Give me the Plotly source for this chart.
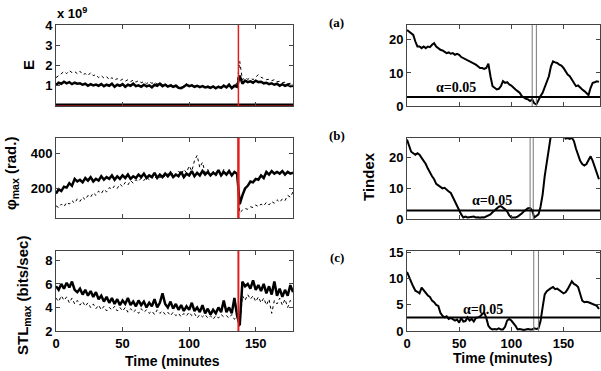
import plotly.graph_objects as go

# ---------------- data ----------------
# left column: 2-minute sampling, t = 0 .. 178 min
E_solid = [1.05,1.15,1.1,1.2,1.12,1.18,1.08,1.15,1.1,1.12,1.05,1.1,1.0,1.08,1.02,1.06,1.0,1.08,0.98,1.05,
           1.0,1.1,0.95,1.05,1.0,1.08,0.95,1.05,1.0,1.1,0.98,1.02,0.95,1.05,0.97,1.02,0.92,1.05,1.0,1.1,
           0.98,1.05,0.96,1.02,0.95,1.0,0.9,0.88,0.95,1.05,0.98,1.02,0.95,1.0,0.93,0.98,0.92,0.95,0.9,0.97,
           0.88,0.95,0.9,1.0,0.92,1.05,0.88,1.0,0.95,1.5,1.1,1.25,1.18,1.22,1.15,1.25,1.18,1.2,1.12,1.15,
           1.08,1.12,1.05,1.1,1.0,1.08,1.0,1.05,0.98,1.0]
E_dotted = [1.4,1.5,1.6,1.7,1.6,1.75,1.65,1.7,1.6,1.72,1.55,1.6,1.5,1.65,1.5,1.55,1.4,1.5,1.38,1.45,
            1.3,1.4,1.28,1.35,1.25,1.32,1.22,1.3,1.2,1.28,1.18,1.25,1.15,1.2,1.1,1.2,1.12,1.18,1.08,1.15,
            1.05,1.1,1.0,1.08,0.98,1.05,0.95,0.92,1.0,1.1,1.0,1.05,0.98,1.02,0.95,1.0,0.95,1.0,0.92,0.98,
            0.9,0.98,0.92,1.05,0.95,1.1,0.9,1.05,1.1,2.2,1.3,1.4,1.32,1.38,1.3,1.45,1.55,1.42,1.35,1.3,
            1.32,1.25,1.3,1.2,1.22,1.15,1.18,1.1,1.12,1.08]
PHI_solid = [170,195,185,210,205,230,215,255,240,250,235,260,245,265,240,255,245,270,250,265,
             255,275,250,270,255,275,260,280,255,270,260,280,265,285,260,275,265,290,260,280,
             265,285,270,290,265,280,270,295,265,285,275,300,270,290,275,300,280,295,275,290,
             280,305,275,295,280,300,275,295,285,110,160,200,215,240,235,255,250,275,260,295,
             280,300,285,295,285,300,280,295,285,290]
PHI_dotted = [100,90,110,95,120,110,130,115,140,125,150,135,160,150,175,160,185,170,195,180,
              205,195,215,200,225,210,235,220,245,230,250,240,260,245,265,250,270,255,275,260,
              280,265,285,270,290,275,300,280,310,290,330,300,360,390,320,350,290,310,275,300,
              270,295,280,310,275,295,270,290,280,60,75,85,80,95,90,105,95,110,100,120,
              105,125,115,135,120,140,130,160,150,180]
STL_solid = [5.8,5.5,6.0,5.6,6.1,5.7,6.2,5.5,5.3,5.6,5.1,5.5,5.0,5.4,4.9,5.3,4.7,5.0,4.5,4.9,
             4.4,4.8,4.3,4.7,4.2,4.6,4.3,4.8,4.2,4.5,4.1,4.6,4.2,4.5,4.0,4.4,4.1,4.7,4.0,4.4,
             5.2,4.3,4.0,4.5,3.9,4.3,3.8,4.2,3.7,4.1,3.8,4.4,3.7,4.0,3.6,4.2,3.5,3.9,3.4,3.8,
             3.5,4.0,3.6,4.6,3.6,4.0,3.5,4.8,3.3,2.5,6.2,5.8,6.0,5.6,6.3,5.5,5.9,5.4,6.0,5.2,
             5.8,5.1,6.2,5.0,5.6,4.9,5.5,5.0,5.9,5.3]
STL_dotted = [4.8,4.5,5.0,4.6,4.9,4.4,4.8,4.3,4.6,4.2,4.5,4.1,4.4,4.0,4.3,3.9,4.2,3.8,4.1,3.7,
              4.0,3.8,4.1,3.7,4.0,3.7,4.0,3.6,3.9,3.6,3.8,3.5,3.9,3.6,3.8,3.5,3.7,3.4,3.8,3.5,
              3.7,3.4,3.6,3.3,3.6,3.3,3.5,3.2,3.5,3.3,3.6,3.3,3.5,3.1,3.4,3.2,3.4,3.1,3.3,3.0,
              3.3,3.1,3.4,3.2,3.3,3.1,3.4,3.0,3.2,2.3,5.0,4.6,5.1,4.7,5.0,4.5,4.9,4.4,4.8,4.2,
              4.7,3.5,4.6,4.3,4.8,4.2,4.7,4.0,4.6,4.4]

# right column: 2-minute sampling, t = 0 .. 184 min
T_a = [23,22.5,22,21.5,19.5,18,18,17.5,18,17.5,18,17.8,18.5,19,18,17.5,17,16.8,16.5,16,
       16.2,15.8,16,15.5,15.8,15.5,14.8,14.5,14,13.8,13.5,13.2,12.8,12.5,12,11.5,11.5,11.2,11.5,12.8,
       9,6,5.5,5,5.2,6,7.5,7,7.2,6.5,6.2,5.5,5,4.5,4,3,2.5,2.2,2,1.5,
       2,0.8,0.5,2,3,4,5.5,7,9,12,13.5,13.2,13,12.5,12.2,11.5,10.5,9.5,9,8,
       7,6,6.2,5.5,5,4.5,4,3.3,5.5,7,7.2,7.5,7.3]
T_b = [26,24,22,21.5,21,21.5,21,20,19,18,16.5,15,14,13,11.5,11,10.5,10,10.2,9.5,
       9,8.5,7,6,4.5,3,1.5,0.5,0.8,0.5,0.6,0.5,0.8,0.5,0.6,0.4,0.6,0.5,0.8,1.2,
       1.5,2.2,2.8,3.5,4,4.2,3.8,3.2,2.5,1.2,0.5,0.4,0.5,0.8,1.2,1.8,2.5,3,3.5,3.6,
       2.8,0.5,1,1.5,4,8,14,19,24,27.5,28,28,28,28,28,27.5,26.3,26.5,26.2,26.6,
       25.5,23,21,19,18,17.5,18,19.5,20.5,19,17,15,13]
T_c = [11.3,10.5,9.4,8.5,7.7,7.5,7.2,8.3,7.8,7.2,6.8,6.5,5.8,5.5,5,4.8,3.5,2.9,2.6,2.8,
       2.3,2.5,2.3,2,2.2,1.6,2.5,1.8,1.9,2.6,2.0,2.3,1.8,2.5,2.6,2.8,3.2,3.5,2.5,1,
       0.5,0.3,0.4,0.3,0.5,0.3,0.3,0.8,2,2.3,2,1.6,1.0,0.3,0.4,0.3,0.2,0.3,0.4,0.3,
       0.3,0.5,0.4,0.5,1.9,4.5,7,7.6,8,8.2,8.4,8,8.1,7.7,7.5,7.2,7.4,8,8.7,9.5,
       9,8.8,8.4,7,5.8,5.5,5.6,5.5,5.3,5.2,5,4.8,4.2]

SEIZURE_ONSET = 137                      # red line, left column (minutes)
SEIZURE_LINES = [[120, 124], [118, 121], [121.5, 126]]   # double lines, right column
ALPHA_LEVEL = [2.7, 2.8, 2.6]            # critical T-index value (alpha = 0.05)
ALPHA_LABEL_POS = [[47, 5.7], [81, 5.9], [73, 4.1]]
STEP = 2


def tt(arr):
    return [STEP * i for i in range(len(arr))]


# ---------------- layout geometry ----------------
W, H = 601, 371
def px(x):
    return x / W
def py(y):
    return 1 - y / H

LX = [px(56), px(293)]
RX = [px(407), px(600)]
ROWS = [[py(106), py(25)], [py(218), py(138)], [py(331), py(251)]]

fig = go.Figure()

def line(x, y, xa, ya, dash="solid", width=1.6, color="black"):
    fig.add_trace(go.Scatter(x=x, y=y, mode="lines", xaxis=xa, yaxis=ya,
                             line=dict(color=color, width=width, dash=dash),
                             showlegend=False, hoverinfo="skip"))

# left column
line(tt(E_dotted), E_dotted, "x", "y", dash="dot", width=1)
line(tt(E_solid), E_solid, "x", "y", width=2.5)
zero_x = [0, tt(E_solid)[-1]]
line(zero_x, [0, 0], "x", "y", width=5)
line(zero_x, [0, 0], "x", "y", width=1, color="#e02020")
line(tt(PHI_dotted), PHI_dotted, "x3", "y3", dash="dot", width=1)
line(tt(PHI_solid), PHI_solid, "x3", "y3", width=2.5)
line(tt(STL_dotted), STL_dotted, "x5", "y5", dash="dot", width=1)
line(tt(STL_solid), STL_solid, "x5", "y5", width=2.5)

# right column
line(tt(T_a), T_a, "x2", "y2", width=2)
line(tt(T_b), T_b, "x4", "y4", width=2)
line(tt(T_c), T_c, "x6", "y6", width=2)

shapes = []
for (xa, ya), w in zip([("x", "y"), ("x3", "y3"), ("x5", "y5")], [1.5, 2.5, 2]):
    shapes.append(dict(type="line", xref=xa, yref=ya + " domain", x0=SEIZURE_ONSET, x1=SEIZURE_ONSET,
                       y0=0, y1=1, line=dict(color="#e02020", width=w)))
for (xa, ya), pair, lev in zip([("x2", "y2"), ("x4", "y4"), ("x6", "y6")], SEIZURE_LINES, ALPHA_LEVEL):
    for v in pair:
        shapes.append(dict(type="line", xref=xa, yref=ya + " domain", x0=v, x1=v, y0=0, y1=1,
                           line=dict(color="#777777", width=1)))
    shapes.append(dict(type="line", xref=xa + " domain", yref=ya, x0=0, x1=1, y0=lev, y1=lev,
                       line=dict(color="black", width=2)))

tickfont = dict(family="Liberation Sans", size=13, color="black", weight="bold")

def axis(domain, rng, tickvals=None, labels=True, anchor=None):
    d = dict(domain=domain, range=rng, showline=True, mirror="ticks", linecolor="#444",
             linewidth=1, ticks="inside", ticklen=4, tickcolor="#444", showgrid=False,
             zeroline=False, tickfont=tickfont, showticklabels=labels, anchor=anchor,
             automargin=False)
    if tickvals is not None:
        d["tickvals"] = tickvals
    return d

xt = [0, 50, 100, 150]
layout = dict(
    xaxis=axis(LX, [0, 178], xt, False, "y"),
    yaxis=axis(ROWS[0], [0, 4], [1, 2, 3, 4], True, "x"),
    xaxis2=axis(RX, [0, 185], xt, False, "y2"),
    yaxis2=axis(ROWS[0], [0, 24.5], [0, 10, 20], True, "x2"),
    xaxis3=axis(LX, [0, 178], xt, False, "y3"),
    yaxis3=axis(ROWS[1], [30, 490], [200, 400], True, "x3"),
    xaxis4=axis(RX, [0, 185], xt, False, "y4"),
    yaxis4=axis([py(219), py(138)], [0, 26.5], [0, 10, 20], True, "x4"),
    xaxis5=axis(LX, [0, 178], xt, True, "y5"),
    yaxis5=axis(ROWS[2], [2, 8.8], [2, 4, 6, 8], True, "x5"),
    xaxis6=axis(RX, [0, 185], xt, True, "y6"),
    yaxis6=axis(ROWS[2], [0, 15.3], [0, 5, 10, 15], True, "x6"),
)

lab = dict(family="Liberation Sans", size=15, color="black", weight="bold")
serif = dict(family="Liberation Serif", size=13, color="black", weight="bold")
ann = []
def pa(text, x, y, font=lab, angle=0, xanchor="center"):
    ann.append(dict(text=text, x=px(x), y=py(y), xref="paper", yref="paper", showarrow=False,
                    font=font, textangle=angle, xanchor=xanchor, yanchor="middle"))

pa("E", 28, 65, angle=-90)
pa("φ<sub>max</sub> (rad.)", 12, 174, angle=-90)
pa("STL<sub>max</sub> (bits/sec)", 23, 296, angle=-90)
pa("Tindex", 368, 177, angle=-90)
pa("x 10<sup>9</sup>", 55, 13, font=dict(family="Liberation Sans", size=13, color="black", weight="bold"), xanchor="left")
pa("Time (minutes", 172, 361, font=dict(family="Liberation Sans", size=14, color="black", weight="bold"))
pa("Time (minutes)", 502, 358, font=dict(family="Liberation Sans", size=14, color="black", weight="bold"))
pa("(a)", 337, 23, font=serif)
pa("(b)", 337, 135, font=serif)
pa("(c)", 337, 257, font=serif)

for (xa, ya), pos in zip([("x2", "y2"), ("x4", "y4"), ("x6", "y6")], ALPHA_LABEL_POS):
    ann.append(dict(text="α=0.05", x=pos[0], y=pos[1], xref=xa, yref=ya, showarrow=False,
                    font=dict(family="Liberation Serif", size=14, color="black", weight="bold")))

fig.update_layout(**layout, shapes=shapes, annotations=ann, width=W, height=H,
                  margin=dict(l=0, r=0, t=0, b=0), plot_bgcolor="white", paper_bgcolor="white",
                  showlegend=False)

fig.write_html("out.html", config={"displayModeBar": False},
               post_script="document.body.style.margin='0';document.body.style.padding='0';")
